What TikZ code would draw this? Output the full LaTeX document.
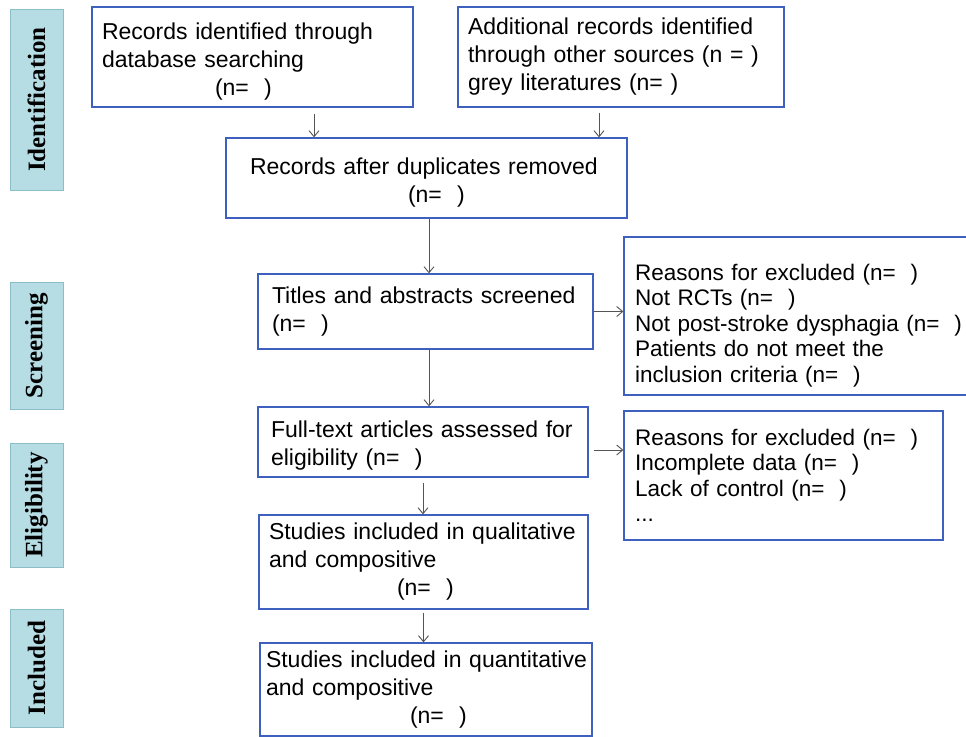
\documentclass[tikz,border=0pt]{standalone}
\usepackage{fontspec}
\setmainfont{Liberation Sans}
\newfontfamily\stageface{Liberation Serif}
\usepackage{tikz}
\usetikzlibrary{arrows.meta, calc}

\definecolor{boxblue}{RGB}{62,96,190}
\definecolor{stagefill}{RGB}{182,221,228}
\definecolor{stageedge}{RGB}{140,190,200}
\definecolor{arrowgrey}{RGB}{85,85,85}

\newcommand{\boxfont}{\fontsize{23}{28}\selectfont}
\newcommand{\listfont}{\fontsize{22.5}{25.5}\selectfont}
\newcommand{\topstrut}[1]{\rule{0pt}{#1}}

\begin{document}
\begin{tikzpicture}[
    x = 1pt, y = -1pt,
    >={Straight Barb[length=6pt, width=10pt]},
    record/.style = {draw = boxblue,
      line width = 1.3pt,
      text = black,
      align = left,
      inner ysep = 0pt,
      font = \boxfont},
    reasons/.style = {record,
      font = \listfont},
    stage/.style = {draw = stageedge,
      fill = stagefill,
      line width = 0.8pt,
      rotate = 90,
      minimum height = 53pt,
      inner sep = 0pt,
      font = \stageface\bfseries\fontsize{25}{30}\selectfont},
    link/.style = {->, draw = arrowgrey, line width = 0.9pt}
    ]
    \useasboundingbox (0, 0) rectangle (966, 736);

    % stages on the left
    \node at (36.5, 99.5) [stage, minimum width = 181pt, name = ident] {Identification};
    \node at (36.5, 345.5) [stage, minimum width = 127pt, name = screen] {Screening};
    \node at (36.5, 505) [stage, minimum width = 124pt, name = elig] {Eligibility};
    \node at (36.5, 668) [stage, minimum width = 118pt, name = incl] {Included};

    % flow boxes
    \node at (252.5, 57) [record, text width = 301pt, inner xsep = 10pt,
      minimum height = 100pt, name = db]
      {\topstrut{25pt}Records identified through\\database searching\\\hspace*{113pt}(n=~~)};
    \node at (621, 57) [record, text width = 306pt, inner xsep = 10pt,
      minimum height = 100pt, name = other]
      {Additional records identified\\through other sources (n = )\\grey literatures (n= )};
    \node at (426.5, 178) [record, text width = 353pt, inner xsep = 24pt,
      minimum height = 80pt, name = dup]
      {\topstrut{25pt}\mbox{Records after duplicates removed}\\\hspace*{158pt}(n=~~)};
    \node at (425.5, 311.5) [record, text width = 307pt, inner xsep = 14pt,
      minimum height = 75pt, name = titles]
      {\mbox{Titles and abstracts screened}\\(n=~~)};
    \node at (801, 316) [reasons, text width = 332pt, inner xsep = 11pt,
      minimum height = 158pt, name = excA]
      {\topstrut{35pt}Reasons for excluded (n=~~)\\Not RCTs (n=~~)\\\mbox{Not post-stroke dysphagia (n=~~)}\\Patients do not meet the\\inclusion criteria (n=~~)};
    \node at (423, 442) [record, text width = 304pt, inner xsep = 13pt,
      minimum height = 70pt, name = full]
      {\topstrut{23pt}\mbox{Full-text articles assessed for}\\eligibility (n=~~)};
    \node at (783.5, 475.5) [reasons, text width = 297pt, inner xsep = 11pt,
      minimum height = 129pt, name = excB]
      {Reasons for excluded (n=~~)\\Incomplete data (n=~~)\\Lack of control (n=~~)\\...};
    \node at (423.5, 562) [record, text width = 309pt, inner xsep = 10pt,
      minimum height = 94pt, name = qual]
      {\mbox{Studies included in qualitative}\\and compositive\\\hspace*{128pt}(n=~~)};
    \node at (426, 689.5) [record, text width = 320pt, inner xsep = 6pt,
      minimum height = 93pt, name = quant]
      {\mbox{Studies included in quantitative}\\and compositive\\\hspace*{144pt}(n=~~)};

    % connectors
    \draw [link, shorten <= 6pt] ([xshift = 61.5pt]db.south) -- ([xshift = 61.5pt]db.south |- dup.north);
    \draw [link, shorten <= 5pt] ([xshift = -22pt]other.south) -- ([xshift = -22pt]other.south |- dup.north);
    \draw [link] ([xshift = 2.5pt]dup.south) -- ([xshift = 2.5pt]dup.south |- titles.north);
    \draw [link] ([xshift = 3.5pt]titles.south) -- ([xshift = 3.5pt]titles.south |- full.north);
    \draw [link] (titles.east) -- (titles.east -| excA.west);
    \draw [link, shorten <= 5pt] ([yshift = -8pt]full.east) -- ([yshift = -8pt]full.east -| excB.west);
    \draw [link, shorten <= 5pt] (full.south) -- (full.south |- qual.north);
    \draw [link, shorten <= 3pt] (qual.south) -- (qual.south |- quant.north);

  \end{tikzpicture}
\end{document}
